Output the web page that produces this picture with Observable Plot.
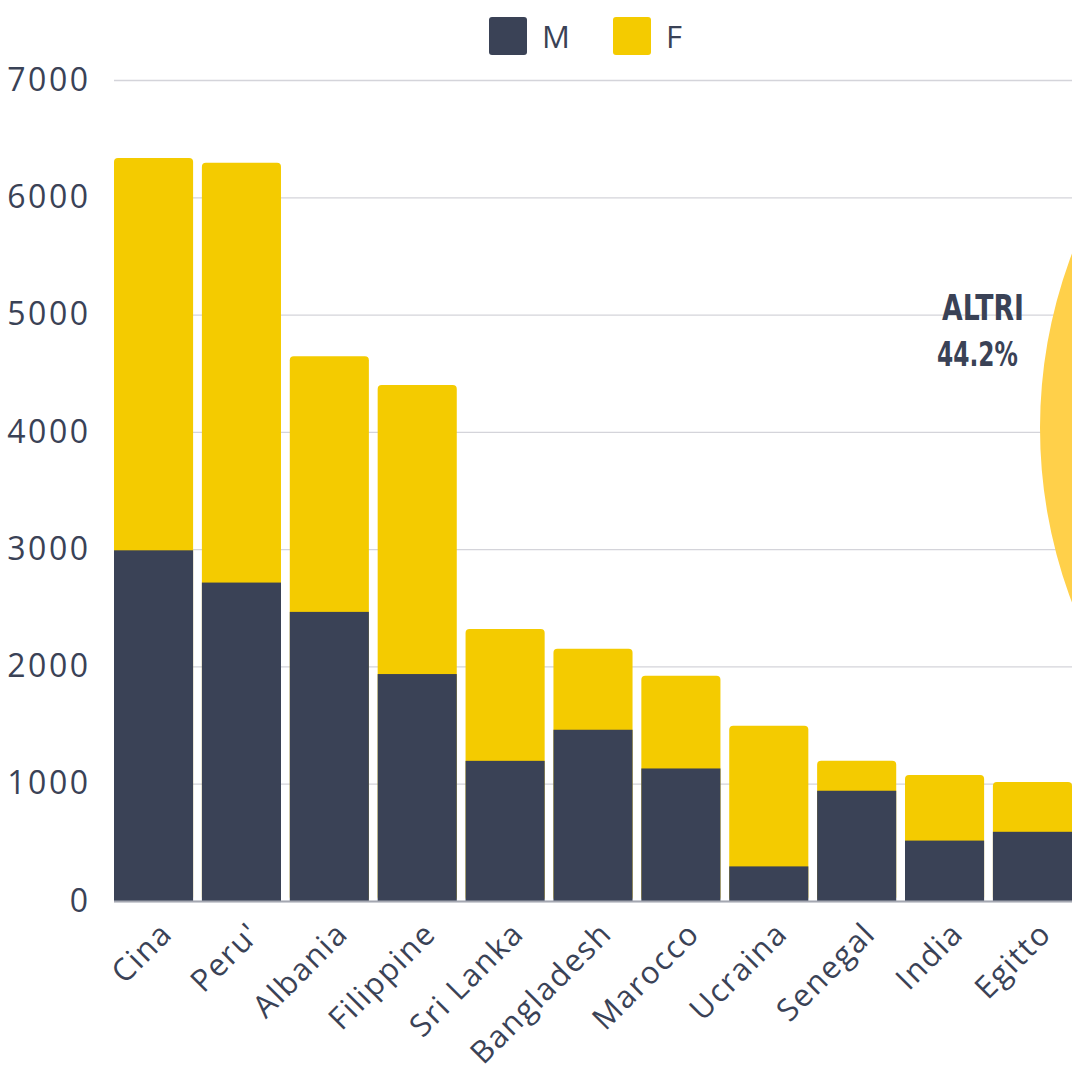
<!DOCTYPE html>
<html>
<head>
<meta charset="utf-8">
<script src="https://cdn.jsdelivr.net/npm/d3@7"></script>
<script src="https://cdn.jsdelivr.net/npm/@observablehq/plot@0.6"></script>
<style>
  html, body { margin: 0; padding: 0; background: #fff; width: 1072px; height: 1077px; overflow: hidden; }
  body { position: relative; font-family: "Open Sans", "Noto Sans", sans-serif; color: #3a4256; }
  #legend { position: absolute; left: 0; top: 0; width: 1072px; height: 62px; z-index: 2; }
  .item { position: absolute; top: 15px; display: flex; align-items: center; font-size: 31px; letter-spacing: 1px; }
  .sw { width: 38px; height: 38px; border-radius: 3px; margin-right: 15px; }
  #overlay { position: absolute; left: 0; top: 0; pointer-events: none; }
</style>
</head>
<body>
<div id="chart"></div>
<div id="legend"></div>
<script>
// ---- data ----
const countries = ["Cina", "Peru'", "Albania", "Filippine", "Sri Lanka", "Bangladesh", "Marocco", "Ucraina", "Senegal", "India", "Egitto"];
const maleValues   = [2990, 2715, 2465, 1935, 1195, 1460, 1130, 295, 940, 515, 590];
const femaleValues = [3345, 3580, 2180, 2465, 1125, 690, 790, 1200, 255, 560, 425];
const seriesNames = ["M", "F"];
const seriesColors = ["#3a4256", "#f4cb00"];
const yTicks = [0, 1000, 2000, 3000, 4000, 5000, 6000, 7000];
const pieLabels = ["ALTRI"];
const pieShares = [44.2];

const rows = countries.map((c, i) => ({country: c, M: maleValues[i], F: femaleValues[i], total: maleValues[i] + femaleValues[i]}));

// ---- legend ----
const legend = document.getElementById("legend");
const legendLeft = [489, 613];
seriesNames.forEach((s, i) => {
  const it = document.createElement("div");
  it.className = "item";
  it.style.left = legendLeft[i] + "px";
  it.innerHTML = `<div class="sw" style="background:${seriesColors[i]}"></div><span>${s}</span>`;
  legend.appendChild(it);
});

// ---- chart ----
const chart = Plot.plot({
  width: 1072,
  height: 1077,
  marginLeft: 114,
  marginRight: 0,
  marginTop: 80,
  marginBottom: 176,
  style: {fontFamily: "'Open Sans', 'Noto Sans', sans-serif", fontSize: "32px", color: "#3a4256", background: "transparent", letterSpacing: "2.5px"},
  x: {domain: countries, paddingInner: 0.1, paddingOuter: 0, round: false, label: null},
  y: {domain: [0, 7000], label: null},
  marks: [
    Plot.gridY(yTicks, {stroke: "#d4d4da", strokeOpacity: 1, strokeWidth: 1.3}),
    Plot.barY(rows, {x: "country", y: "total", fill: seriesColors[1], rx: 4}),
    Plot.barY(rows, {x: "country", y: "M", fill: seriesColors[0]}),
    Plot.ruleY([0], {stroke: "#a4a7b1", strokeWidth: 2}),
    Plot.axisY(yTicks, {tickSize: 0, tickPadding: 24, label: null, fontSize: 32, tickFormat: d => String(d)}),
    Plot.axisX({tickSize: 0, tickPadding: 27, dx: 13, tickRotate: -45, label: null, fontSize: 31})
  ]
});
chart.querySelectorAll("g[aria-label='x-axis tick label'] text").forEach(t => t.style.letterSpacing = "1.6px");
document.getElementById("chart").appendChild(chart);

// ---- partial pie overlay (neighbouring chart fragment) ----
const ov = d3.select("body").append("svg").attr("id", "overlay").attr("width", 1072).attr("height", 1077);
const r = 492, cx = 1532, cy = 428;
const midAngle = 280 * Math.PI / 180;
const span = pieShares[0] / 100 * 2 * Math.PI;
const arc = d3.arc().innerRadius(0).outerRadius(r);
ov.append("path")
  .attr("transform", `translate(${cx},${cy})`)
  .attr("d", arc({startAngle: midAngle - span / 2, endAngle: midAngle + span / 2}))
  .attr("fill", "#ffd04a");
const labelFont = "'DejaVu Sans', 'Liberation Sans', sans-serif";
ov.append("text").attr("x", 942).attr("y", 320)
  .attr("font-family", labelFont).attr("font-weight", 900).attr("font-size", 35)
  .attr("textLength", 82).attr("lengthAdjust", "spacingAndGlyphs")
  .attr("fill", "#3a4256").text(pieLabels[0]);
ov.append("text").attr("x", 937).attr("y", 366)
  .attr("font-family", labelFont).attr("font-weight", 900).attr("font-size", 33)
  .attr("textLength", 81).attr("lengthAdjust", "spacingAndGlyphs")
  .attr("fill", "#3a4256").text(pieShares[0].toFixed(1) + "%");
</script>
</body>
</html>
